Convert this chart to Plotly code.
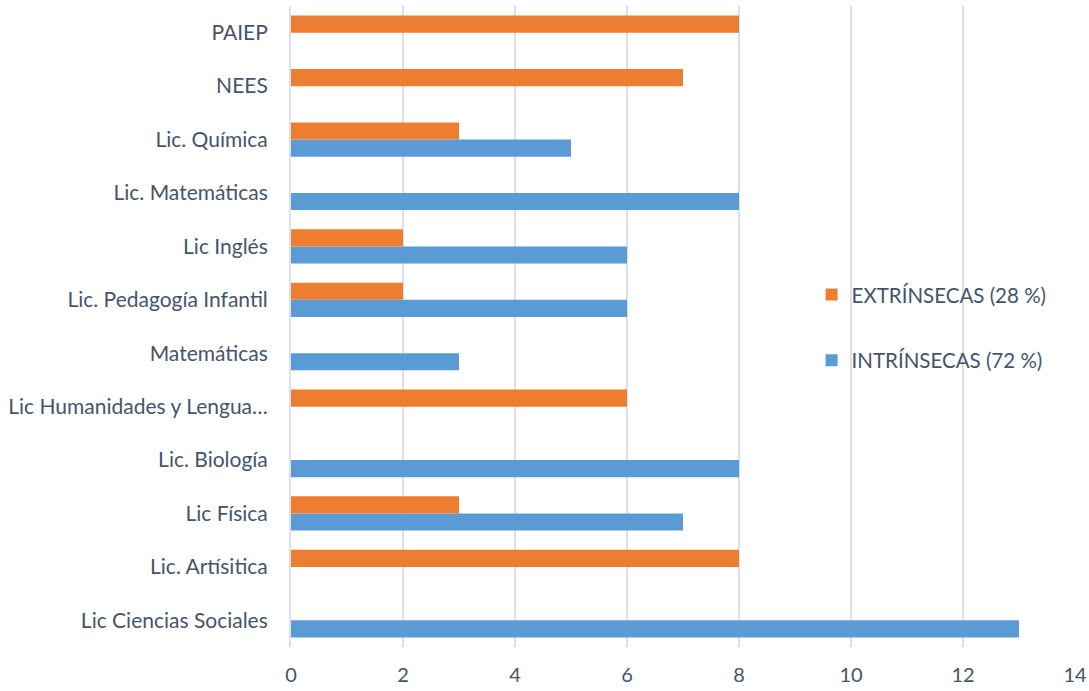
import plotly.graph_objects as go

categories = ["Lic Ciencias Sociales", "Lic. Artísitica", "Lic Física", "Lic. Biología",
              "Lic Humanidades y Lengua…", "Matemáticas", "Lic. Pedagogía Infantil",
              "Lic Inglés", "Lic. Matemáticas", "Lic. Química", "NEES", "PAIEP"]
intrinsecas = [13, 0, 7, 8, 0, 3, 6, 6, 8, 5, 0, 0]
extrinsecas = [0, 8, 3, 0, 6, 0, 2, 2, 0, 3, 7, 8]
x_ticks = [0, 2, 4, 6, 8, 10, 12, 14]

text_color = "#44546A"
font_family = "Lato, Open Sans, sans-serif"

fig = go.Figure()
fig.add_trace(go.Bar(y=categories, x=intrinsecas, orientation="h",
                     name="INTRÍNSECAS (72 %)", marker=dict(color="#5B9BD5", line=dict(width=0)),
                     legendgroup="a", legendrank=2))
fig.add_trace(go.Bar(y=categories, x=extrinsecas, orientation="h",
                     name="EXTRÍNSECAS (28 %)", marker=dict(color="#ED7D31", line=dict(width=0)),
                     legendgroup="b", legendrank=1))

fig.update_layout(
    width=1089, height=691,
    margin=dict(l=291, r=14, t=6, b=44, autoexpand=False),
    barmode="group", bargap=0.36, bargroupgap=0,
    plot_bgcolor="white", paper_bgcolor="white",
    font=dict(family=font_family, size=18, color=text_color),
    legend=dict(x=0.664, y=0.498, xanchor="left", yanchor="middle",
                traceorder="grouped", tracegroupgap=36,
                font=dict(size=20.5, color=text_color), bgcolor="rgba(0,0,0,0)",
                itemwidth=30),
    xaxis=dict(range=[0, 14], tickvals=x_ticks, showgrid=True, gridcolor="#DDE0E7",
               gridwidth=2, zeroline=False, showline=False, ticks="", automargin=False,
               tickfont=dict(size=20, color=text_color), ticklabelstandoff=14),
    yaxis=dict(showgrid=False, showline=True, linecolor="#DDE0E7", linewidth=2,
               ticks="", ticklabelstandoff=17, automargin=False,
               tickfont=dict(size=21, color=text_color)),
)

fig.write_html("out.html", post_script="document.body.style.margin='0';",
               config={"displayModeBar": False})
